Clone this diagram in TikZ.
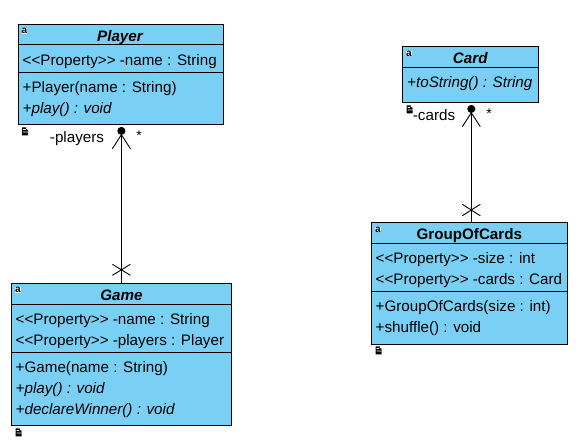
\documentclass[tikz,border=0pt]{standalone}
\usepackage{fontspec}
\setmainfont{Liberation Sans}
\usetikzlibrary{arrows.meta,positioning,calc}
\definecolor{umlfill}{RGB}{122,207,245}
\tikzset{
  x=1pt,y=-1pt,
  umlbox/.style={draw=black,line width=1pt,fill=umlfill,rectangle,inner sep=0pt,outer sep=0pt},
  umltext/.style={anchor=base west,inner sep=0pt,yshift=-0.8pt,font=\fontsize{15.2}{15.2}\selectfont,text=black},
  umltitle/.style={anchor=base,inner sep=0pt,font=\fontsize{15.2}{15.2}\selectfont\bfseries,text=black},
  sepline/.style={line width=1pt},
  assoc/.style={line width=0.9pt,shorten >=2.6pt,-{Straight Barb[length=14pt,width=18pt,line width=0.9pt,sep=-1pt]Circle[length=8pt,width=8pt,fill=black]}},
  crossmark/.style={line width=0.9pt},
  alabel/.style={anchor=base,inner sep=0pt,font=\fontsize{15.2}{15.2}\selectfont},
  alabelstar/.style={anchor=base,inner sep=0pt,font=\fontsize{14}{14}\selectfont},
  aicon/.style={fill=white,inner sep=0.2pt,font=\fontsize{10}{10}\selectfont\bfseries,anchor=center},
  docicon/.pic={\fill[black] (-3,-4) -- (1,-4) -- (3,-2) -- (3,4) -- (-3,4) -- cycle;
    \fill[white] (-1.8,-2.4) rectangle (0.6,-1.6) (-1.8,0.2) rectangle (3,1) (0.8,-3.6) -- (3,-1.2) -- (3,-4) -- cycle;},
}
\begin{document}
\begin{tikzpicture}
\useasboundingbox (0,0) rectangle (576,443);
% Player
\node[umlbox,minimum width=205.6pt,minimum height=100pt] (player) at (120.9,74.3) {};
\draw[sepline] (18.1,45) -- (223.7,45) (18.1,72.3) -- (223.7,72.3);
\node[umltitle] (playerT) at (120,41.5) {\itshape Player};
\node[umltext] (playerA) at (22.5,65) {<{}<Property>{}> -name : String};
\node[umltext] (playerB) at (22.5,92) {+Player(name : String)};
\node[umltext] (playerC) at (22.5,113) {\itshape +play() : void};
\node[aicon] (playerI) at (24.5,31) {a};
\pic at (25,131.5) {docicon};
% Game
\node[umlbox,minimum width=219.8pt,minimum height=142pt] (game) at (121.4,354.3) {};
\draw[sepline] (11.5,304.3) -- (231.3,304.3) (11.5,352.3) -- (231.3,352.3);
\node[umltitle] (gameT) at (121.4,301) {\itshape Game};
\node[umltext] (gameA) at (15.5,324) {<{}<Property>{}> -name : String};
\node[umltext] (gameB) at (15.5,345) {<{}<Property>{}> -players : Player};
\node[umltext] (gameC) at (15.5,372) {+Game(name : String)};
\node[umltext] (gameD) at (15.5,393) {\itshape +play() : void};
\node[umltext] (gameE) at (15.5,414) {\itshape +declareWinner() : void};
\node[aicon] (gameI) at (18,290) {a};
\pic at (18.5,432.5) {docicon};
% Card
\node[umlbox,minimum width=136pt,minimum height=56.3pt] (card) at (470.3,74.2) {};
\draw[sepline] (402.3,67.3) -- (538.3,67.3);
\node[umltitle] (cardT) at (470.3,64) {\itshape Card};
\node[umltext] (cardA) at (407,87) {\itshape +toString() : String};
\node[aicon] (cardI) at (409,53.5) {a};
\pic at (409.5,109.5) {docicon};
% GroupOfCards
\node[umlbox,minimum width=196pt,minimum height=122pt] (group) at (469.3,283.3) {};
\draw[sepline] (371.3,243.3) -- (567.3,243.3) (371.3,291.3) -- (567.3,291.3);
\node[umltitle] (groupT) at (469.3,240) {GroupOfCards};
\node[umltext] (groupA) at (375.5,263) {<{}<Property>{}> -size : int};
\node[umltext] (groupB) at (375.5,284) {<{}<Property>{}> -cards : Card};
\node[umltext] (groupC) at (375.5,311) {+GroupOfCards(size : int)};
\node[umltext] (groupD) at (375.5,332) {+shuffle() : void};
\node[aicon] (groupI) at (378,229.5) {a};
\pic at (378.5,350.5) {docicon};
% Connectors
\draw[assoc] (game.north) -- ([xshift=0.5pt]player.south);
\draw[crossmark] ([shift={(-9,-19)}]game.north) -- ([shift={(9,-8)}]game.north)
                 ([shift={(9,-19)}]game.north) -- ([shift={(-9,-8)}]game.north);
\draw[assoc] ([xshift=2pt]group.north) -- ([xshift=1pt]card.south);
\draw[crossmark] ([shift={(-7,-18)}]group.north) -- ([shift={(11,-6.5)}]group.north)
                 ([shift={(11,-18)}]group.north) -- ([shift={(-7,-6.5)}]group.north);
% Labels
\node[alabel] (lplayers) at (77,143) {-players};
\node[alabelstar] (sp) at (139,141) {*};
\node[alabel] (lcards) at (434,121) {-cards};
\node[alabelstar] (sc) at (489,119) {*};
\end{tikzpicture}
\end{document}
